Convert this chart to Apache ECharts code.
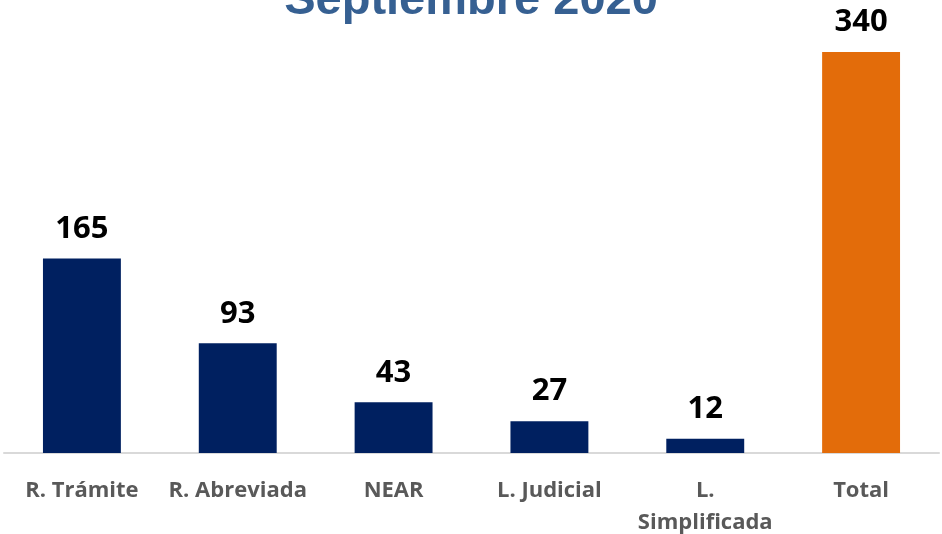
<!DOCTYPE html>
<html>
<head>
<meta charset="utf-8">
<script src="https://cdn.jsdelivr.net/npm/echarts@6/dist/echarts.min.js"></script>
<style>
    html, body { margin: 0; padding: 0; background: #fff; }
    #main { width: 942px; height: 534px; }
</style>
</head>
<body>
<div id="main"></div>
<script>
var categories = ["R. Trámite", "R. Abreviada", "NEAR", "L. Judicial", "L.\nSimplificada", "Total"];
var values = [165, 93, 43, 27, 12, 340];
var barColors = ["#002060", "#002060", "#002060", "#002060", "#002060", "#e36c0a"];
var titleText = "Septiembre 2020";

var chart = echarts.init(document.getElementById("main"));
chart.setOption({
    animation: false,
    title: {
        text: titleText,
        left: "center",
        top: -27,
        textStyle: {
            fontFamily: "Liberation Sans",
            fontWeight: "bold",
            fontSize: 47,
            color: "#366092"
        }
    },
    grid: { left: 4, right: 3, top: 52, bottom: 81, containLabel: false, outerBoundsMode: "none" },
    xAxis: {
        type: "category",
        data: categories,
        axisLine: { lineStyle: { color: "#d9d9d9", width: 2 } },
        axisTick: { show: false },
        axisLabel: {
            margin: 22,
            interval: 0,
            fontFamily: "Open Sans",
            fontWeight: "bold",
            fontSize: 22,
            lineHeight: 32,
            color: "#595959"
        }
    },
    yAxis: {
        type: "value",
        min: 0,
        max: 340,
        show: false,
        splitLine: { show: false }
    },
    series: [{
        type: "bar",
        barWidth: "50%",
        data: values.map(function (v, i) {
            return { value: v, itemStyle: { color: barColors[i] } };
        }),
        label: {
            show: true,
            position: "top",
            distance: 14,
            fontFamily: "Open Sans",
            fontWeight: "bold",
            fontSize: 31,
            color: "#000"
        }
    }]
});
</script>
</body>
</html>
